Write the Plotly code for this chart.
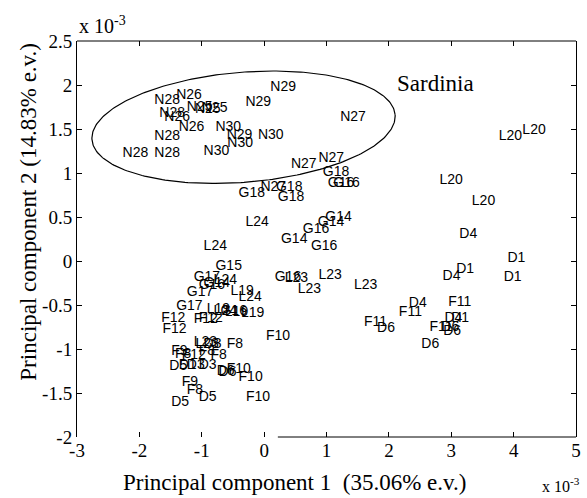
import numpy as np
import plotly.graph_objects as go

# ---- data (PC1, PC2 in units of 1e-3) ----
N_lab = ["N28","N26","N25","N25","N25","N28","N26","N26","N28","N28","N28","N30","N29","N30","N30","N30","N29","N29","N27","N27","N27","N27"]
N_x = [-1.76,-1.41,-1.24,-1.11,-1.00,-1.68,-1.60,-1.37,-1.76,-2.27,-1.76,-0.78,-0.60,-0.59,-0.10,-0.97,-0.30,0.10,1.22,0.43,0.87,-0.06]
N_y = [1.82,1.88,1.74,1.72,1.73,1.68,1.63,1.52,1.41,1.22,1.22,1.52,1.43,1.33,1.43,1.24,1.80,1.97,1.63,1.10,1.17,0.83]

G_lab = ["G18","G16","G16","G18","G18","G18","G14","G14","G16","G14","G16","G15","G16","G17","G14","G16","G17","G17","G16"]
G_x = [0.94,1.02,1.11,-0.41,0.19,0.22,0.98,0.86,0.62,0.27,0.75,-0.78,0.17,-1.13,-0.97,-1.05,-1.24,-1.41,-0.70]
G_y = [1.01,0.88,0.88,0.77,0.83,0.72,0.50,0.44,0.36,0.25,0.16,-0.06,-0.19,-0.19,-0.26,-0.28,-0.36,-0.52,-0.57]

L_lab = ["L24","L24","L20","L20","L20","L20","L23","L23","L23","L23","L24","L19","L24","L19","L24","L19","L19","L23","L23"]
L_x = [-0.30,-0.97,3.76,4.14,2.81,3.33,0.33,0.54,0.87,1.44,-0.81,-0.54,-0.41,-0.92,-0.81,-0.63,-0.37,-1.13,-1.10]
L_y = [0.44,0.16,1.42,1.48,0.91,0.68,-0.20,-0.32,-0.16,-0.28,-0.22,-0.35,-0.42,-0.55,-0.57,-0.58,-0.60,-0.93,-0.95]

D_lab = ["D4","D1","D1","D4","D1","D4","D4","D1","D6","D6","D6","D6","D3","D5","D1","D3","D3","D6","D6","D5","D5"]
D_x = [3.13,3.90,3.08,2.86,3.84,2.32,2.89,3.00,2.84,2.87,2.52,1.81,-0.97,-1.52,-1.37,-1.24,-1.05,-0.76,-0.73,-1.05,-1.49]
D_y = [0.30,0.03,-0.10,-0.18,-0.19,-0.48,-0.65,-0.65,-0.76,-0.80,-0.95,-0.77,-0.95,-1.20,-1.19,-1.19,-1.19,-1.26,-1.27,-1.55,-1.61]

F_lab = ["F11","F11","F11","F11","F12","F12","F12","F12","F10","F8","F8","F8","F9","F8","F12","F10","F10","F10","F9","F8"]
F_x = [2.95,2.16,2.65,1.60,-1.65,-1.13,-1.05,-1.63,0.03,-0.60,-0.86,-1.05,-1.49,-1.43,-1.32,-0.60,-0.41,-0.29,-1.32,-1.24]
F_y = [-0.47,-0.59,-0.76,-0.70,-0.65,-0.67,-0.65,-0.78,-0.86,-0.95,-1.07,-1.03,-1.03,-1.06,-1.07,-1.23,-1.32,-1.55,-1.38,-1.47]

# ellipse around Sardinian group (centre, semi-axis vectors)
ell_c = (-0.33, 1.52)
ell_a = (2.43, 0.142)
ell_b = (-0.071, 0.623)
sard_label = "Sardinia"
sard_pos = (2.10, 2.02)

x_ticks = [-3, -2, -1, 0, 1, 2, 3, 4, 5]
x_ticktext = ["-3", "-2", "-1", "0", "1", "2", "3", "4", "5"]
y_ticks = [-2, -1.5, -1, -0.5, 0, 0.5, 1, 1.5, 2, 2.5]
y_ticktext = ["-2", "-1.5", "-1", "-0.5", "0", "0.5", "1", "1.5", "2", "2.5"]

xlabel = "Principal component 1  (35.06% e.v.)"
ylabel = "Principal component 2 (14.83% e.v.)"

fig = go.Figure()
lab_font = dict(family="Liberation Sans, Arial", size=14, color="black")
for lab, xs, ys in [(N_lab, N_x, N_y), (G_lab, G_x, G_y), (L_lab, L_x, L_y), (D_lab, D_x, D_y), (F_lab, F_x, F_y)]:
    fig.add_trace(go.Scatter(x=xs, y=ys, mode="text", text=lab, textposition="middle right",
                             textfont=lab_font, showlegend=False, hoverinfo="skip"))

t = np.linspace(0, 2 * np.pi, 300)
ex = ell_c[0] + np.cos(t) * ell_a[0] + np.sin(t) * ell_b[0]
ey = ell_c[1] + np.cos(t) * ell_a[1] + np.sin(t) * ell_b[1]
fig.add_trace(go.Scatter(x=ex, y=ey, mode="lines", line=dict(color="black", width=1.2),
                         showlegend=False, hoverinfo="skip"))

serif = "Liberation Serif, Times New Roman"
fig.add_annotation(x=sard_pos[0], y=sard_pos[1], text=sard_label, showarrow=False, xanchor="left",
                   yanchor="middle", font=dict(family=serif, size=23, color="black"))
fig.add_annotation(xref="paper", yref="paper", x=0.4365, y=-0.114, text=xlabel, showarrow=False,
                   xanchor="center", yanchor="middle", font=dict(family=serif, size=23, color="black"))
fig.add_annotation(xref="paper", yref="paper", x=-0.099, y=0.568, text=ylabel, showarrow=False,
                   textangle=-90, xanchor="center", yanchor="middle",
                   font=dict(family=serif, size=23, color="black"))
fig.add_annotation(xref="paper", yref="paper", x=0, y=1, text="x 10<sup>-3</sup>", showarrow=False,
                   xanchor="left", yanchor="bottom", yshift=2,
                   font=dict(family=serif, size=20, color="black"))
fig.add_annotation(xref="paper", yref="paper", x=1, y=0, text="x 10<sup>-3</sup>", showarrow=False,
                   xanchor="right", yanchor="top", xshift=6, yshift=-36,
                   font=dict(family=serif, size=16, color="black"))

# axis box lines (bottom line only partially visible in the reference)
fig.add_shape(type="line", xref="paper", yref="paper", x0=0, x1=1, y0=1, y1=1,
              line=dict(color="black", width=1))
fig.add_shape(type="line", xref="x", yref="paper", x0=0.22, x1=5, y0=0, y1=0,
              line=dict(color="black", width=1))

fig.update_xaxes(range=[-3, 5], tickvals=x_ticks, ticktext=x_ticktext, ticks="inside", ticklen=5,
                 tickcolor="black", showline=False, mirror="ticks", showgrid=False, zeroline=False,
                 tickfont=dict(family=serif, size=19, color="black"))
fig.update_yaxes(range=[-2, 2.5], tickvals=y_ticks, ticktext=y_ticktext, ticks="inside", ticklen=5,
                 tickcolor="black", showline=True, linecolor="black", linewidth=1, mirror="ticks",
                 showgrid=False, zeroline=False, tickfont=dict(family=serif, size=19, color="black"))

fig.update_layout(width=587, height=498, margin=dict(l=77, r=6, t=41, b=61),
                  paper_bgcolor="white", plot_bgcolor="white")

fig.write_html("out.html")
